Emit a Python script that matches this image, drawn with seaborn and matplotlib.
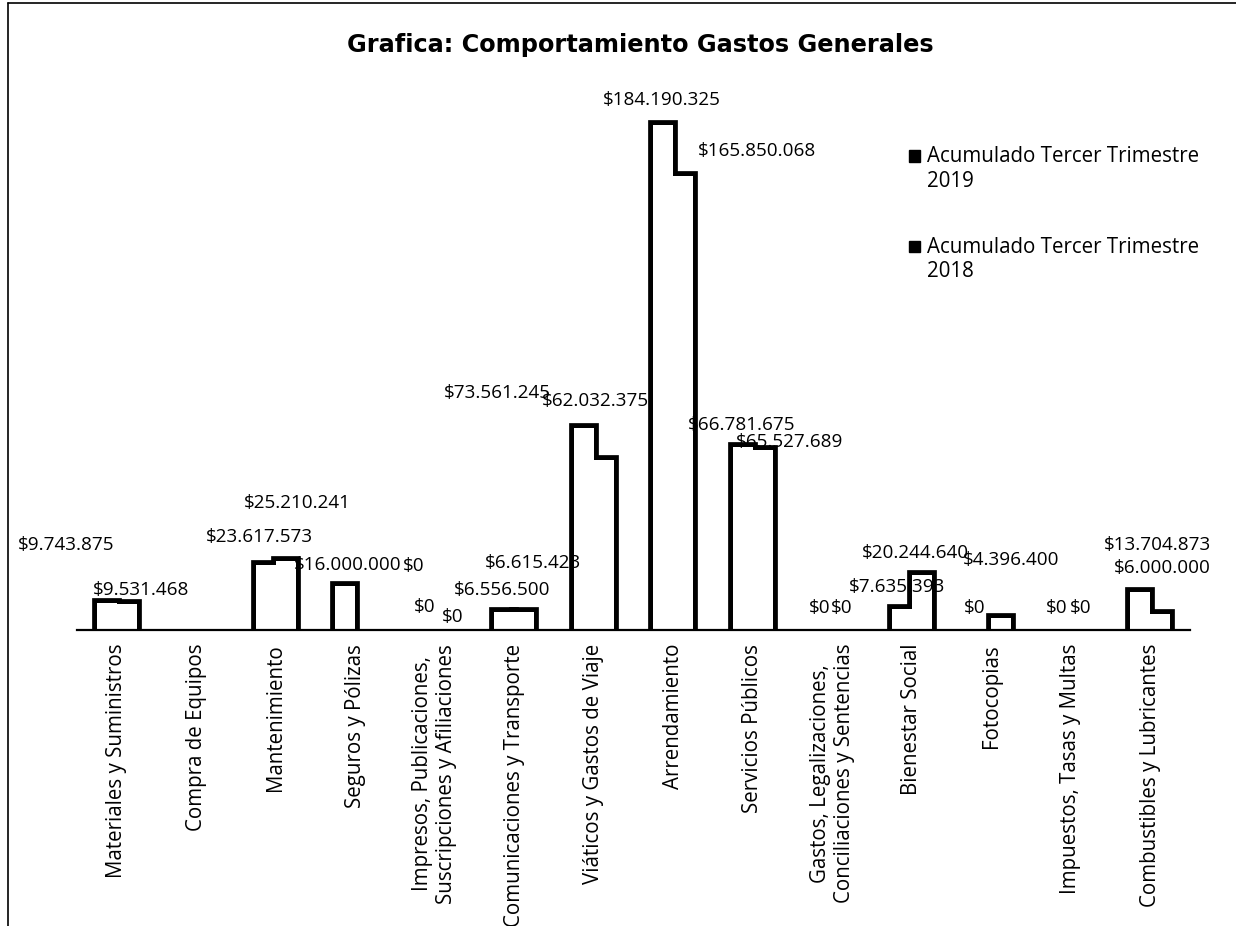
import matplotlib
matplotlib.use("Agg")
import matplotlib.pyplot as plt
import pandas as pd
import seaborn as sns
from matplotlib.lines import Line2D
from matplotlib.patches import Rectangle
from matplotlib.legend_handler import HandlerBase

# data
categorias = [
    "Materiales y Suministros",
    "Compra de Equipos",
    "Mantenimiento",
    "Seguros y Pólizas",
    "Impresos, Publicaciones,\nSuscripciones y Afiliaciones",
    "Comunicaciones y Transporte",
    "Viáticos y Gastos de Viaje",
    "Arrendamiento",
    "Servicios Públicos",
    "Gastos, Legalizaciones,\nConciliaciones y Sentencias",
    "Bienestar Social",
    "Fotocopias",
    "Impuestos, Tasas y Multas",
    "Combustibles y Lubricantes",
]
series = ["Acumulado Tercer Trimestre\n2019", "Acumulado Tercer Trimestre\n2018"]
valores_2019 = [9743875, 0, 23617573, 16000000, 0, 6615423, 73561245,
                184190325, 66781675, 0, 7635393, 0, 0, 13704873]
valores_2018 = [9531468, 0, 25210241, 0, 0, 6556500, 62032375,
                165850068, 65527689, 0, 20244640, 4396400, 0, 6000000]

# label offsets in pixels (dx, dy) from the bar top, None = no label shown
offsets_2019 = [(-41, 58), None, (-6, 28), (2, 21), (0, 23), (29, 49), (-86, 35),
                (-1, 25), (-1, 22), (-3, 22), (-5, 22), (-7, 22), (-4, 22), (17, 47)]
offsets_2018 = [(14, 14), None, (12, 58), (48, 64), (8, 13), (-22, 22), (-8, 59),
                (74, 25), (27, 8), (0, 22), (-6, 22), (10, 58), (0, 22), (2, 46)]

df = pd.DataFrame({
    "categoria": categorias * 2,
    "valor": valores_2019 + valores_2018,
    "serie": [series[0]] * len(categorias) + [series[1]] * len(categorias),
})

sns.set_theme(style="white")
plt.rcParams["font.family"] = ["Open Sans", "DejaVu Sans"]
plt.rcParams["text.color"] = "black"
plt.rcParams["xtick.color"] = "black"

W, H = 1236, 926
fig = plt.figure(figsize=(W / 100, H / 100), dpi=100)
ax = fig.add_axes([77 / W, 296 / H, 1113 / W, 548 / H])

# outline layer, then a white layer on top so only the outer contour shows
sns.barplot(data=df, x="categoria", y="valor", hue="serie", ax=ax,
            palette=["white", "white"], edgecolor="black", linewidth=7,
            width=0.5, gap=0, legend=False, zorder=1)
sns.barplot(data=df, x="categoria", y="valor", hue="serie", ax=ax,
            palette=["white", "white"], linewidth=0,
            width=0.5, gap=0, legend=False, zorder=2)

for cont in ax.containers[:2]:
    for bar in cont.patches:
        if bar.get_height() == 0:
            bar.set_linewidth(0)

ax.set_ylim(0, 200e6)
ax.set_xlim(-0.5, len(categorias) - 0.5)
ax.set_xlabel("")
ax.set_ylabel("")
ax.set_yticks([])
for s in ["left", "top", "right"]:
    ax.spines[s].set_visible(False)
ax.spines["bottom"].set_color("black")
ax.spines["bottom"].set_linewidth(1.6)
ax.spines["bottom"].set_zorder(3)
ax.tick_params(axis="x", length=0, pad=10)
plt.setp(ax.get_xticklabels(), rotation=90, fontsize=14.8, color="black",
         ha="center", va="top", multialignment="center")


def fmt(v):
    return "$" + "{:,}".format(v).replace(",", ".")


for cont, vals, offs in zip(ax.containers[:2], [valores_2019, valores_2018],
                            [offsets_2019, offsets_2018]):
    for bar, v, off in zip(cont.patches, vals, offs):
        if off is None:
            continue
        x = bar.get_x() + bar.get_width() / 2
        ax.annotate(fmt(v), (x, bar.get_height()), xytext=off,
                    textcoords="offset pixels", ha="center", va="center",
                    fontsize=13.6, color="black", annotation_clip=False)


class TopSquare(HandlerBase):
    def create_artists(self, legend, orig_handle, xdescent, ydescent,
                       width, height, fontsize, trans):
        s = fontsize * 0.55
        r = Rectangle((width - s, fontsize * 0.75 - ydescent), s, s,
                      facecolor="black", edgecolor="black", transform=trans)
        return [r]


handles = [Rectangle((0, 0), 1, 1), Rectangle((0, 0), 1, 1)]
fig.legend(handles, series, loc="upper left",
           bbox_to_anchor=(885 / W, 1 - 128 / H), frameon=False,
           fontsize=14.8, labelspacing=2.2, handlelength=0.8,
           handletextpad=0.35,
           handler_map={Rectangle: TopSquare()})

fig.text(640 / W, 1 - 45 / H, "Grafica: Comportamiento Gastos Generales",
         ha="center", va="center", fontsize=17.3, fontweight="bold",
         family="DejaVu Sans", color="black")

# scan frame
fig.add_artist(Line2D([8 / W, 8 / W], [0, 1 - 3 / H], color="black", lw=1.2))
fig.add_artist(Line2D([8 / W, 1], [1 - 3 / H, 1 - 3 / H], color="black", lw=1.2))

fig.savefig("out.png", dpi=100)
